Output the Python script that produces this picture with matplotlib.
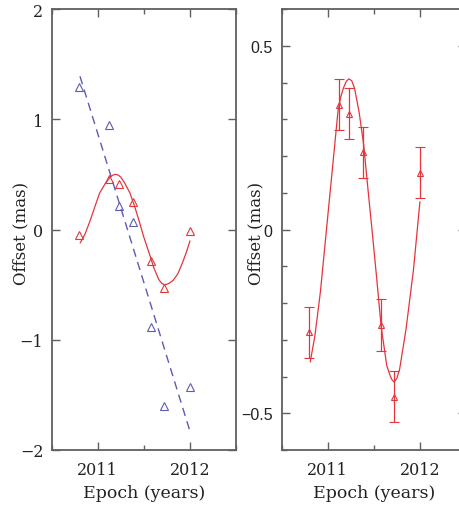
import matplotlib
matplotlib.use("Agg")
import matplotlib.pyplot as plt
from matplotlib.ticker import MultipleLocator

# ---- data ----
epochs = [2010.80, 2011.12, 2011.23, 2011.38, 2011.575, 2011.715, 2012.00]

# left panel: observed offsets (mas)
left_red = [-0.05, 0.46, 0.41, 0.25, -0.29, -0.53, -0.01]
left_blue = [1.29, 0.95, 0.21, 0.07, -0.88, -1.60, -1.43]

# left panel: red model curve
lcurve_t = [2010.81, 2010.86, 2010.915, 2010.97, 2011.02, 2011.08, 2011.13,
            2011.16, 2011.19, 2011.22, 2011.25, 2011.29, 2011.35, 2011.40,
            2011.45, 2011.50, 2011.56, 2011.61, 2011.66, 2011.69, 2011.72,
            2011.75, 2011.78, 2011.82, 2011.87, 2011.92, 2011.96, 2012.00]
lcurve_v = [-0.12, -0.045, 0.075, 0.21, 0.33, 0.415, 0.47,
            0.492, 0.50, 0.495, 0.475, 0.425, 0.33, 0.21,
            0.075, -0.07, -0.22, -0.35, -0.45, -0.485, -0.50,
            -0.497, -0.485, -0.46, -0.40, -0.30, -0.21, -0.105]

# left panel: blue dashed line end points
line_t = [2010.807, 2012.006]
line_v = [1.39, -1.844]

# right panel: residual offsets with errors (mas)
right_vals = [-0.28, 0.34, 0.315, 0.21, -0.26, -0.455, 0.155]
right_err = [0.07, 0.07, 0.07, 0.07, 0.07, 0.07, 0.07]

# right panel: model curve
rcurve_t = [2010.81, 2010.86, 2010.92, 2010.99, 2011.06, 2011.11, 2011.14,
            2011.17, 2011.20, 2011.23, 2011.26, 2011.29, 2011.34, 2011.39,
            2011.44, 2011.48, 2011.53, 2011.58, 2011.64, 2011.68, 2011.70,
            2011.72, 2011.75, 2011.78, 2011.85, 2011.93, 2012.00]
rcurve_v = [-0.36, -0.29, -0.17, 0.01, 0.19, 0.32, 0.36,
            0.385, 0.403, 0.41, 0.405, 0.385, 0.32, 0.23,
            0.10, 0.0, -0.13, -0.265, -0.37, -0.40, -0.41,
            -0.415, -0.405, -0.38, -0.27, -0.11, 0.075]

left_yticks = [-2, -1, 0, 1, 2]
left_yticklabels = ["\u22122", "\u22121", "0", "1", "2"]
right_yticks = [-0.5, 0, 0.5]
right_yticklabels = ["\u22120.5", "0", "0.5"]
xticks = [2011, 2012]
xticklabels = ["2011", "2012"]

RED = "#e5343c"
BLUE = "#5c5cb4"
SPINE = "#606060"
SERIF = "DejaVu Serif"
SANS = "Liberation Sans"

fig = plt.figure(figsize=(4.59, 5.06), dpi=100)
axL = fig.add_axes([0.1126, 0.1087, 0.4015, 0.8715])
axR = fig.add_axes([0.6137, 0.1087, 0.4015, 0.8715])

def style(ax):
    for s in ax.spines.values():
        s.set_color(SPINE)
        s.set_linewidth(1.3)
    ax.set_xlim(2010.5, 2012.5)
    ax.xaxis.set_minor_locator(MultipleLocator(0.5))
    ax.tick_params(which="both", direction="in", top=True, right=True,
                   color=SPINE, width=1.0)
    ax.tick_params(which="major", length=6)
    ax.tick_params(which="minor", length=3.5)
    ax.tick_params(axis="x", which="major", pad=8)
    ax.set_xticks(xticks)
    ax.set_xticklabels(xticklabels, family=SERIF, fontsize=11.5, color="#222222")
    ax.set_xlabel("Epoch (years)", family=SERIF, fontsize=12.5, color="#222222",
                  labelpad=4)

# left panel
style(axL)
axL.set_ylim(-2, 2)
axL.set_yticks(left_yticks)
axL.set_yticklabels(left_yticklabels, family=SERIF, fontsize=11.5, color="#222222")
axL.tick_params(axis="y", which="major", pad=6)
axL.plot(line_t, line_v, color=BLUE, lw=1.0, linestyle=(0, (6, 4)))
axL.plot(lcurve_t, lcurve_v, color=RED, lw=0.9)
axL.plot(epochs, left_blue, linestyle="none", marker="^", markersize=5.5,
         markerfacecolor="none", markeredgecolor=BLUE, markeredgewidth=0.8)
axL.plot(epochs, left_red, linestyle="none", marker="^", markersize=5.5,
         markerfacecolor="none", markeredgecolor=RED, markeredgewidth=0.8)
axL.set_ylabel("Offset (mas)", family=SERIF, fontsize=12, color="#222222")
axL.yaxis.set_label_coords(-0.12, 0.494)

# right panel
style(axR)
axR.set_ylim(-0.6, 0.6)
axR.set_yticks(right_yticks)
axR.set_yticklabels(right_yticklabels, family=SANS, fontsize=11.5, color="#222222")
axR.yaxis.set_minor_locator(MultipleLocator(0.1))
axR.tick_params(axis="y", which="major", pad=6.5)
axR.plot(rcurve_t, rcurve_v, color=RED, lw=0.9)
axR.errorbar(epochs, right_vals, yerr=right_err, fmt="^", color=RED,
             markersize=5, markerfacecolor="none", markeredgewidth=0.8,
             elinewidth=0.9, capsize=3.5, capthick=0.9)
axR.set_ylabel("Offset (mas)", family=SERIF, fontsize=12, color="#222222")
axR.yaxis.set_label_coords(-0.092, 0.494)

fig.savefig("out.png", dpi=100)
